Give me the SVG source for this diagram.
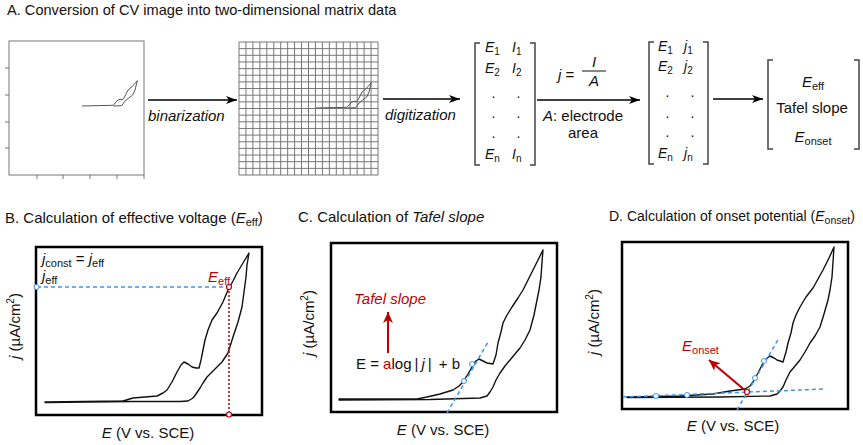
<svg xmlns="http://www.w3.org/2000/svg" width="863" height="445" viewBox="0 0 863 445">
<style>
.t{font-family:"Liberation Sans",Arial,sans-serif;font-size:15px;fill:#111}
.m{font-size:14px}
.i{font-style:italic}
.red{fill:#c00000}
.frame{fill:none;stroke:#000;stroke-width:2.5}
.cv{fill:none;stroke:#111;stroke-width:1.4;stroke-linejoin:round;stroke-linecap:round}
.cvs{fill:none;stroke:#555;stroke-width:1;stroke-linejoin:round}
.ax{fill:none;stroke:#777;stroke-width:1}
.grid{fill:none;stroke:#777;stroke-width:1}
.arr{stroke:#000;stroke-width:1.5;fill:none}
.br{fill:none;stroke:#444;stroke-width:1.5}
.blue{fill:none;stroke:#3a96f0;stroke-width:1.5;stroke-dasharray:4 3}
.rdot{fill:none;stroke:#c00000;stroke-width:1.5;stroke-dasharray:2 2}
.bc{fill:#fff;stroke:#3a96f0;stroke-width:1}
.rc{fill:#fff;stroke:#c00000;stroke-width:1.2}
.rarr{stroke:#c00000;stroke-width:2;fill:none}
</style>
<defs>
<marker id="ah" markerWidth="12" markerHeight="8" refX="11" refY="4" orient="auto" markerUnits="userSpaceOnUse"><path d="M0,0 L11,4 L0,8 L3,4 Z" fill="#000"/></marker>
<marker id="rah" markerWidth="12" markerHeight="10" refX="11" refY="5" orient="auto" markerUnits="userSpaceOnUse"><path d="M0,0 L11,5 L0,10 L3,5 Z" fill="#c00000"/></marker>
<path id="mini" d="M82,106 L113,105.3 L116,102 L118,100 L120,99.3 L123,99.5 L125,96 L128,90 L132,86.7 L137.3,80.7 L135,90 L132.7,95 L128.3,98.3 L125,101 L121.7,105.7 L113.3,106"/>
</defs>
<rect width="863" height="445" fill="#fff"/>

<!-- Panel A -->
<g id="titleA"><text class="t" x="7" y="15" style="font-size:14.6px">A. Conversion of CV image into two-dimensional matrix data</text></g>

<g id="cv-image">
<rect class="ax" x="9" y="41" width="135" height="134"/>
<path class="ax" d="M5,68 H9 M5,95 H9 M5,122 H9 M5,148 H9 M37,175 V179 M63,175 V179 M90,175 V179 M117,175 V179 M144,175 V179"/>
<use href="#mini" class="cvs"/>
</g>

<g id="grid-image">
<path class="grid" d="M239,42 V175 M245.95,42 V175 M252.9,42 V175 M259.85,42 V175 M266.8,42 V175 M273.75,42 V175 M280.7,42 V175 M287.65,42 V175 M294.6,42 V175 M301.55,42 V175 M308.5,42 V175 M315.45,42 V175 M322.4,42 V175 M329.35,42 V175 M336.3,42 V175 M343.25,42 V175 M350.2,42 V175 M357.15,42 V175 M364.1,42 V175 M371.05,42 V175 M378,42 V175
M239,42 H378 M239,48.65 H378 M239,55.3 H378 M239,61.95 H378 M239,68.6 H378 M239,75.25 H378 M239,81.9 H378 M239,88.55 H378 M239,95.2 H378 M239,101.85 H378 M239,108.5 H378 M239,115.15 H378 M239,121.8 H378 M239,128.45 H378 M239,135.1 H378 M239,141.75 H378 M239,148.4 H378 M239,155.05 H378 M239,161.7 H378 M239,168.35 H378 M239,175 H378"/>
<use href="#mini" class="cvs" transform="translate(234,2)"/>
</g>

<g id="matrix-EI">
<path class="br" d="M480,43 H475 V165 H480 M530,43 H535 V165 H530"/>
<text class="t m i" x="485" y="52">E<tspan font-size="10" dy="3" font-style="normal">1</tspan></text>
<text class="t m i" x="512" y="52">I<tspan font-size="10" dy="3" font-style="normal">1</tspan></text>
<text class="t m i" x="485" y="73">E<tspan font-size="10" dy="3" font-style="normal">2</tspan></text>
<text class="t m i" x="512" y="73">I<tspan font-size="10" dy="3" font-style="normal">2</tspan></text>
<text class="t m" x="491.5" y="98">.</text><text class="t m" x="516.5" y="98">.</text>
<text class="t m" x="491.5" y="118">.</text><text class="t m" x="516.5" y="118">.</text>
<text class="t m" x="491.5" y="138">.</text><text class="t m" x="516.5" y="138">.</text>
<text class="t m i" x="485" y="159">E<tspan font-size="10" dy="3" font-style="normal">n</tspan></text>
<text class="t m i" x="512" y="159">I<tspan font-size="10" dy="3" font-style="normal">n</tspan></text>
</g>

<g id="matrix-Ej">
<path class="br" d="M654,42 H649 V164 H654 M703,42 H708 V164 H703"/>
<text class="t m i" x="658" y="51">E<tspan font-size="10" dy="3" font-style="normal">1</tspan></text>
<text class="t m i" x="684" y="51">j<tspan font-size="10" dy="3" font-style="normal">1</tspan></text>
<text class="t m i" x="658" y="71">E<tspan font-size="10" dy="3" font-style="normal">2</tspan></text>
<text class="t m i" x="684" y="71">j<tspan font-size="10" dy="3" font-style="normal">2</tspan></text>
<text class="t m" x="665.5" y="97">.</text><text class="t m" x="690.5" y="97">.</text>
<text class="t m" x="665.5" y="118">.</text><text class="t m" x="690.5" y="118">.</text>
<text class="t m" x="665.5" y="137">.</text><text class="t m" x="690.5" y="137">.</text>
<text class="t m i" x="658" y="158">E<tspan font-size="10" dy="3" font-style="normal">n</tspan></text>
<text class="t m i" x="684" y="158">j<tspan font-size="10" dy="3" font-style="normal">n</tspan></text>
</g>

<g id="result-vector">
<path class="br" d="M773,60 H768 V149 H773 M854,60 H859 V149 H854"/>
<text class="t" x="813" y="87" text-anchor="middle"><tspan class="i">E</tspan><tspan font-size="11" dy="3">eff</tspan></text>
<text class="t" x="812" y="113" text-anchor="middle">Tafel slope</text>
<text class="t" x="813" y="142" text-anchor="middle"><tspan class="i">E</tspan><tspan font-size="11" dy="3">onset</tspan></text>
</g>

<g id="connectors">
<line class="arr" x1="148" y1="100" x2="237" y2="100" marker-end="url(#ah)"/>
<line class="arr" x1="383" y1="99" x2="460" y2="99" marker-end="url(#ah)"/>
<line class="arr" x1="537" y1="100" x2="640" y2="100" marker-end="url(#ah)"/>
<line class="arr" x1="713" y1="99" x2="763" y2="99" marker-end="url(#ah)"/>
<text class="t i" x="148" y="121">binarization</text>
<text class="t i" x="385" y="120">digitization</text>
<text class="t" x="558" y="80"><tspan class="i">j</tspan> =</text>
<text class="t i" x="594" y="67" text-anchor="middle">I</text>
<line x1="582" y1="71" x2="606" y2="71" stroke="#111" stroke-width="1"/>
<text class="t i" x="594" y="86" text-anchor="middle">A</text>
<text class="t" x="543" y="121"><tspan class="i">A</tspan>: electrode</text>
<text class="t" x="583" y="138" text-anchor="middle">area</text>
</g>

<!-- Panel B -->
<g id="panelB">
<text class="t" x="5" y="223">B. Calculation of effective voltage (<tspan class="i">E</tspan><tspan font-size="11" dy="3">eff</tspan><tspan dy="-3">)</tspan></text>
<rect class="frame" x="36" y="247" width="226" height="168"/>
<path class="cv" d="M45,402 L123,401 L133,398 L145,397 L157,396 L163,393 L167,390 L172,382 L177,372 L181,365 L184,362 L188,364 L192,367 L196,368 L199,368 L201,360 L203,350 L205,340 L208,330 L212,320 L217,313 L223,302 L228,290 L233,281 L237,273 L243,263 L249,253 L247,265 L246,277 L244,292 L242,307 L238,322 L233,337 L228,353 L222,362 L217,367 L212,372 L207,377 L203,383 L200,388 L196,394 L193,398 L188,401 L180,401.5 L133,401.5 L45,402.5"/>
<text class="t" x="42" y="264"><tspan class="i">j</tspan><tspan font-size="11" dy="3">const</tspan><tspan dy="-3"> = </tspan><tspan class="i">j</tspan><tspan font-size="11" dy="3">eff</tspan></text>
<text class="t" x="42" y="281"><tspan class="i">j</tspan><tspan font-size="11" dy="3">eff</tspan></text>
<line class="blue" x1="37" y1="287" x2="229" y2="287"/>
<line class="rdot" x1="229" y1="287" x2="229" y2="415"/>
<circle class="bc" cx="36.5" cy="287" r="2.5"/>
<circle class="rc" cx="229" cy="287" r="2.5"/>
<circle class="rc" cx="229" cy="414.5" r="2.5"/>
<text class="t red" x="208" y="282"><tspan class="i">E</tspan><tspan font-size="11" dy="3">eff</tspan></text>
<text class="t" transform="translate(20,326) rotate(-90)" text-anchor="middle"><tspan class="i">j</tspan> (µA/cm<tspan font-size="10" dy="-6">2</tspan><tspan dy="6">)</tspan></text>
<text class="t" x="148" y="438" text-anchor="middle"><tspan class="i">E</tspan> (V vs. SCE)</text>
</g>

<!-- Panel C -->
<g id="panelC">
<text class="t" x="298" y="222">C. Calculation of <tspan class="i">Tafel slope</tspan></text>
<rect class="frame" x="331" y="243" width="226" height="169"/>
<path class="cv" d="M339,399 L417,399 L427,397 L440,394 L453,390 L459,386 L463,382 L468,374 L472,367 L476,361 L479,359 L483,361 L487,363 L493,364 L496,355 L498,343 L501,332 L503,323 L507,315 L512,307 L518,298 L523,290 L528,280 L533,270 L538,260 L543,250 L542,262 L541,277 L539,290 L537,300 L534,315 L530,330 L525,340 L520,348 L515,354 L510,360 L505,366 L500,373 L496,380 L493,387 L490,392 L487,396 L480,398 L430,399.5 L339,400"/>
<line class="blue" x1="447" y1="413" x2="488" y2="342"/>
<circle class="bc" cx="464" cy="381" r="2.5"/>
<circle class="bc" cx="472" cy="364" r="2.5"/>
<text class="t red i" x="354" y="304">Tafel slope</text>
<line class="rarr" x1="388" y1="353" x2="388" y2="312" marker-end="url(#rah)"/>
<text class="t" x="356" y="369">E = <tspan class="red">a</tspan>log<tspan dx="3">|</tspan><tspan class="i" dx="3">j</tspan><tspan dx="3">|</tspan><tspan dx="3"> + b</tspan></text>
<text class="t" transform="translate(314,323) rotate(-90)" text-anchor="middle"><tspan class="i">j</tspan> (µA/cm<tspan font-size="10" dy="-6">2</tspan><tspan dy="6">)</tspan></text>
<text class="t" x="443" y="435" text-anchor="middle"><tspan class="i">E</tspan> (V vs. SCE)</text>
</g>

<!-- Panel D -->
<g id="panelD">
<text class="t" x="609" y="221" style="font-size:14px">D. Calculation of onset potential (<tspan class="i">E</tspan><tspan font-size="10.5" dy="3">onset</tspan><tspan dy="-3">)</tspan></text>
<rect class="frame" x="622" y="242" width="226" height="167"/>
<path class="cv" d="M627,397 L680,396 L713,394 L730,391 L745,389 L750,386 L753,382 L758,373 L762,365 L766,359 L770,356 L774,358 L777,360 L783,362 L786,352 L788,343 L791,333 L793,323 L796,315 L800,307 L806,297 L813,288 L818,279 L823,270 L829,258 L834,247 L833,262 L832,277 L830,290 L828,300 L824,314 L820,327 L815,336 L810,343 L805,352 L800,360 L795,366 L790,372 L786,380 L783,387 L780,391 L777,394 L770,396 L720,397 L627,397.5"/>
<line class="blue" x1="623" y1="397" x2="825" y2="389"/>
<line class="blue" x1="737" y1="410" x2="779" y2="338"/>
<circle class="bc" cx="656" cy="396" r="2.5"/>
<circle class="bc" cx="687" cy="395" r="2.5"/>
<circle class="bc" cx="755" cy="378" r="2.5"/>
<circle class="bc" cx="764" cy="361" r="2.5"/>
<line class="rarr" x1="747" y1="392" x2="709" y2="360" marker-end="url(#rah)"/>
<circle class="rc" cx="747" cy="392" r="2.5"/>
<text class="t red" x="682" y="351"><tspan class="i">E</tspan><tspan font-size="11" dy="3">onset</tspan></text>
<text class="t" transform="translate(599,322) rotate(-90)" text-anchor="middle"><tspan class="i">j</tspan> (µA/cm<tspan font-size="10" dy="-6">2</tspan><tspan dy="6">)</tspan></text>
<text class="t" x="733" y="431" text-anchor="middle"><tspan class="i">E</tspan> (V vs. SCE)</text>
</g>
</svg>
